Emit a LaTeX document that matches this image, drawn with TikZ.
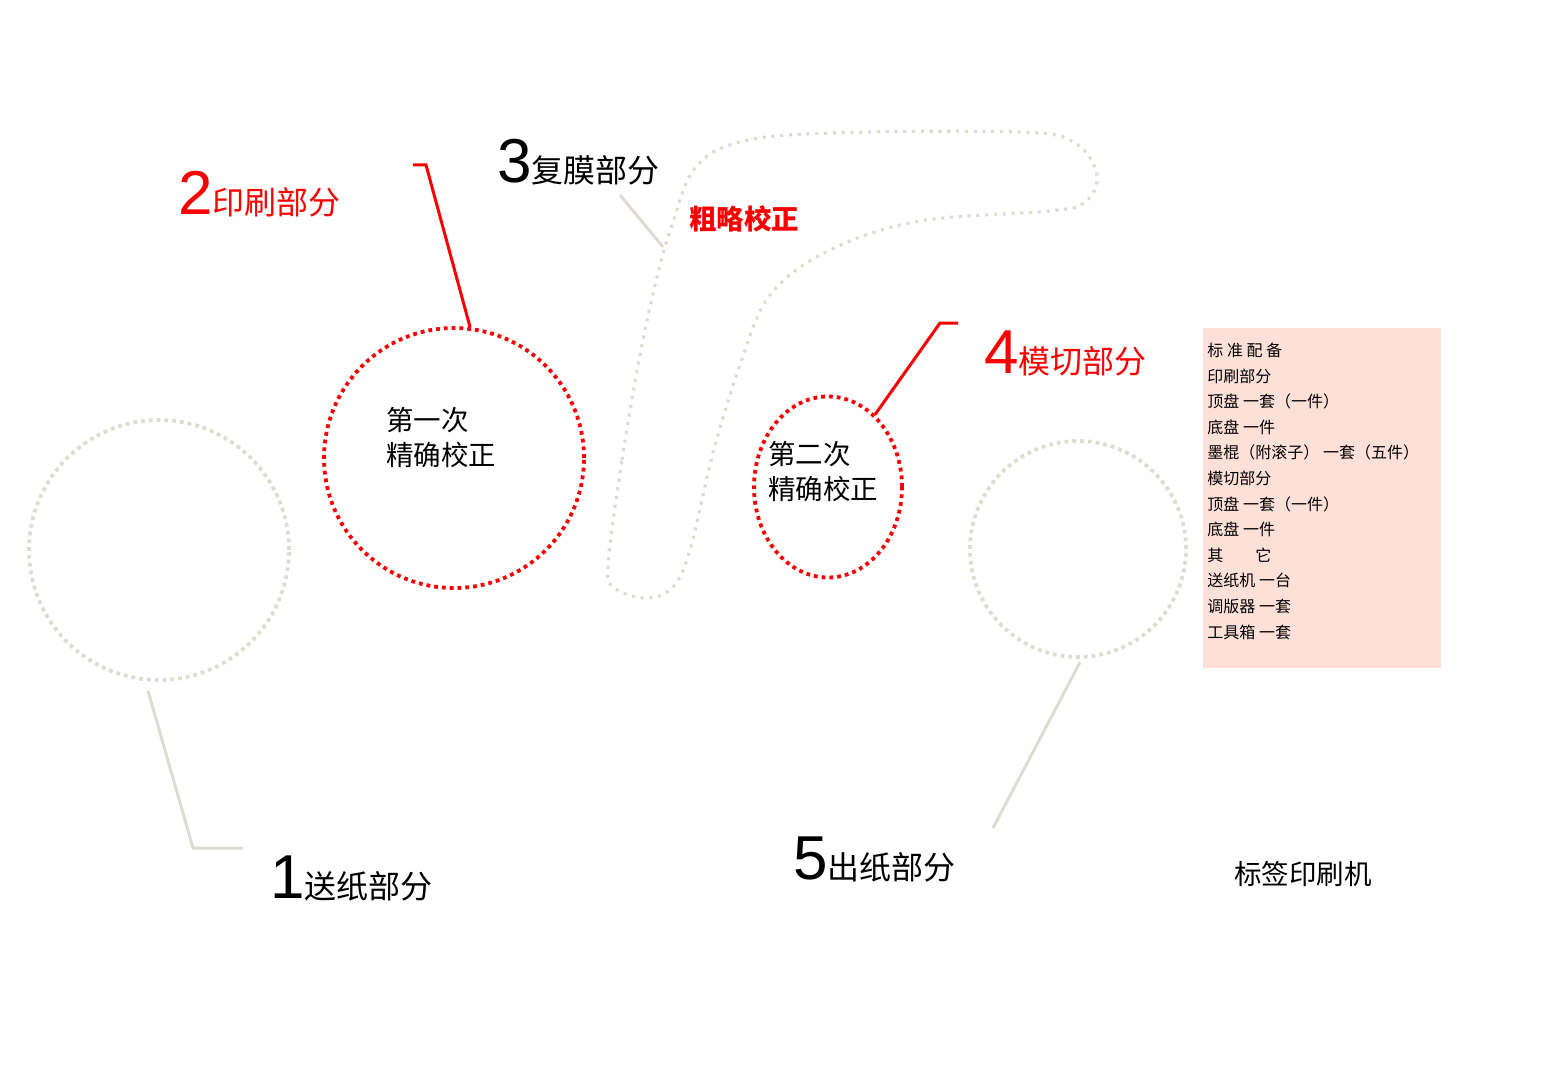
\documentclass[tikz,border=0pt]{standalone}
\usepackage{fontspec}
\setmainfont{Liberation Sans}
\newfontfamily\cjk{Noto Sans CJK SC}
\usetikzlibrary{shapes.geometric}
\definecolor{markred}{RGB}{250,0,0}
\definecolor{leadgray}{RGB}{222,220,210}
\definecolor{kitpink}{RGB}{253,225,216}
\newcommand{\partno}[2]{{\fontsize{31}{31}\selectfont #1}{\cjk\fontsize{16}{16}\selectfont #2}}

\begin{document}
\begin{tikzpicture}[x=0.5pt, y=-0.5pt,
  dotcirc/.style={draw=#1, line width=1.9pt, dash pattern=on 1.9pt off 2pt, inner sep=0pt},
  lead/.style={draw=#1, line width=1.5pt},
  partlab/.style={anchor=base west, inner sep=0pt},
  fixtext/.style={anchor=base west, inner sep=0pt, align=left,
    font=\cjk\fontsize{13.75}{17.3}\selectfont},
  filmpath/.style={draw=leadgray, line width=1.6pt, dash pattern=on 1.6pt off 2.8pt},
  kitbox/.style={fill=kitpink, minimum width=119pt, minimum height=170pt, inner sep=0pt},
  kittext/.style={anchor=base west, inner sep=0pt, align=left,
    font=\cjk\fontsize{8}{12.8}\selectfont}]
\useasboundingbox (0,0) rectangle (1550,1064);
%
\draw (159,550) node[dotcirc=leadgray, circle, minimum size=130pt](feed){};
\coordinate (feedknee) at (193,848);
\coordinate (feedend) at (243,848);
\draw[lead=leadgray, shorten <=5pt] (feed.264) -- (feedknee) -- (feedend);
\draw (270,898) node[partlab](feedlab){\partno{1}{送纸部分}};
%
\draw (454,458) node[dotcirc=markred, circle, minimum size=130pt](firstfix){};
\draw (386,465) node[fixtext](firsttxt){第一次\\精确校正};
\coordinate (printknee) at (426,165);
\coordinate (printend) at (413,165);
\draw[lead=markred] (firstfix.83) -- (printknee) -- (printend);
\draw (178,214) node[partlab, text=markred](printlab){\partno{2}{印刷部分}};
%
\draw (497,183) node[partlab](coatlab){\partno{3}{复膜部分}};
\draw[filmpath] plot[smooth cycle, tension=0.6] coordinates {
  (608,565) (622,460) (640,355) (657,277) (672,225) (695,168) (740,142)
  (830,133) (1020,132) (1075,143) (1097,175) (1085,202) (1050,211)
  (920,221) (830,250) (770,295) (740,365) (713,453) (690,550) (672,588)
  (645,598) (615,588)};
\coordinate (coatfoot) at (620,195);
\coordinate (coatpt) at (663,247);
\draw[lead=leadgray] (coatfoot) -- (coatpt);
\draw (689,229) node[fixtext, text=markred,
  font=\cjk\bfseries\fontsize{13.75}{17.5}\selectfont](rough){粗略校正};
%
\draw (828,487) node[dotcirc=markred, ellipse, minimum width=74pt,
  minimum height=90.5pt](secondfix){};
\draw (768,499) node[fixtext](secondtxt){第二次\\精确校正};
\coordinate (dieknee) at (940,323);
\coordinate (dieend) at (958,323);
\draw[lead=markred] (secondfix.57) -- (dieknee) -- (dieend);
\draw (984,373) node[partlab, text=markred](dielab){\partno{4}{模切部分}};
%
\draw (1078,549) node[dotcirc=leadgray, circle, minimum size=108pt](deliver){};
\coordinate (deliverend) at (993,828);
\draw[lead=leadgray, shorten <=2pt] (deliver.272) -- (deliverend);
\draw (793,879) node[partlab](deliverlab){\partno{5}{出纸部分}};
%
\draw (1203,328) node[kitbox, anchor=north west](kit){};
\draw (1207,638) node[kittext](kitlist){标 准 配 备\\印刷部分\\顶盘 一套（一件）\\
  底盘 一件\\墨棍（附滚子） 一套（五件）\\模切部分\\顶盘 一套（一件）\\
  底盘 一件\\其\hspace{2em}它\\送纸机 一台\\调版器 一套\\工具箱 一套};
\draw (1234,884) node[fixtext](title){标签印刷机};
\end{tikzpicture}
\end{document}
